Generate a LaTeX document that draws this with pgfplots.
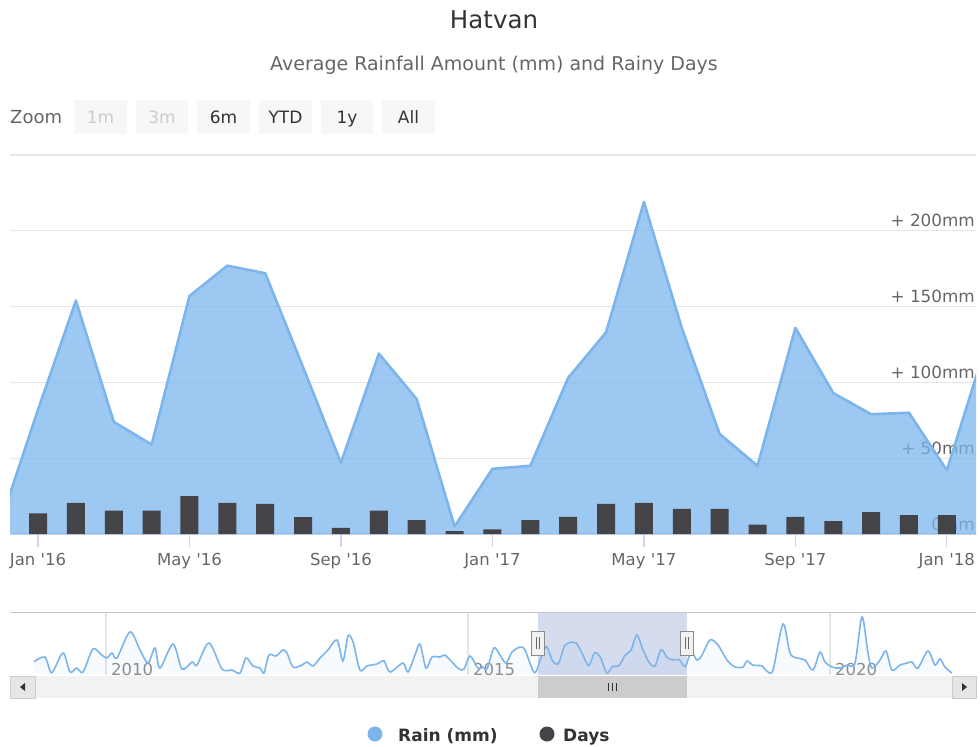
\documentclass[border=0pt]{standalone}
\usepackage{pgfplots}
\usepackage{pgfplotstable}
\pgfplotsset{compat=1.18}
\usepackage{fontspec}
\setmainfont{DejaVu Sans}[Ligatures=TeXOff]
\definecolor{rainblue}{HTML}{7CB5EC}
\definecolor{daysgray}{HTML}{434348}
\definecolor{txt}{HTML}{333333}
\definecolor{sub}{HTML}{666666}
\definecolor{gridc}{HTML}{E6E6E6}
\definecolor{axc}{HTML}{CCD6EB}
\definecolor{btn}{HTML}{F7F7F7}
\definecolor{dis}{HTML}{CCCCCC}
\definecolor{track}{HTML}{F2F2F2}
\definecolor{sbtn}{HTML}{E6E6E6}
\definecolor{mask}{HTML}{CCD6EB}

% month index (0 = Jan 2016), rain in mm
\pgfplotstableread{
m rain
-1 7
0 82
1 154
2 74
3 59
4 157
5 177
6 172
7 110
8 47
9 119
10 89
11 5
12 43
13 45
14 103
15 133
16 219
17 136
18 66
19 45
20 136
21 93
22 79
23 80
24 42
25 122
}\raintable

% month index, rainy days
\pgfplotstableread{
m days
0 7.1
1 10.7
2 8.0
3 8.0
4 13.0
5 10.7
6 10.3
7 5.8
8 2.1
9 8.0
10 4.8
11 1.0
12 1.6
13 4.8
14 5.9
15 10.3
16 10.7
17 8.6
18 8.6
19 3.2
20 5.9
21 4.4
22 7.5
23 6.5
24 6.5
}\daystable

% navigator series: decimal year, rain in mm
\pgfplotstableread{
yr rain
2009.006 69
2009.157 95
2009.250 7
2009.406 118
2009.503 11
2009.595 33
2009.682 11
2009.820 140
2009.941 106
2010.014 90
2010.083 118
2010.152 90
2010.331 236
2010.470 135
2010.580 61
2010.677 146
2010.746 33
2010.925 168
2011.050 28
2011.188 67
2011.257 50
2011.423 174
2011.602 28
2011.740 22
2011.851 5
2011.934 90
2012.030 45
2012.127 33
2012.182 6
2012.251 106
2012.348 101
2012.445 135
2012.500 118
2012.583 39
2012.707 50
2012.776 67
2012.859 45
2012.956 90
2013.066 135
2013.191 191
2013.273 73
2013.343 213
2013.412 180
2013.508 22
2013.605 45
2013.743 56
2013.840 73
2013.923 11
2014.102 61
2014.171 11
2014.268 106
2014.337 168
2014.420 33
2014.503 95
2014.613 95
2014.682 106
2014.779 67
2014.876 28
2014.945 28
2015.028 101
2015.138 33
2015.207 39
2015.262 28
2015.359 146
2015.442 106
2015.525 61
2015.608 123
2015.718 151
2015.787 135
2015.917 7
2016.000 82
2016.083 154
2016.167 74
2016.250 59
2016.333 157
2016.417 177
2016.500 172
2016.583 110
2016.667 47
2016.750 119
2016.833 89
2016.917 5
2017.000 43
2017.083 45
2017.167 103
2017.250 133
2017.333 219
2017.417 136
2017.500 66
2017.583 45
2017.667 136
2017.750 93
2017.833 79
2017.917 80
2018.000 42
2018.083 122
2018.163 78
2018.232 106
2018.343 191
2018.453 163
2018.577 78
2018.688 39
2018.798 39
2018.854 73
2018.936 50
2019.061 45
2019.130 16
2019.212 22
2019.351 281
2019.447 118
2019.544 90
2019.655 78
2019.765 22
2019.862 123
2019.931 67
2020.028 39
2020.138 33
2020.235 50
2020.345 61
2020.442 320
2020.525 118
2020.580 33
2020.691 78
2020.773 129
2020.856 22
2020.967 50
2021.063 61
2021.133 67
2021.215 33
2021.353 129
2021.450 50
2021.519 84
2021.588 39
2021.685 5
}\navtable

\begin{document}
\begin{tikzpicture}
\path[use as bounding box] (0pt,0pt) rectangle (980pt,-747pt);

% titles
\node[anchor=base, font=\fontsize{24.5}{28}\selectfont, text=txt, inner sep=0pt] at (494pt,-28pt) {Hatvan};
\node[anchor=base, font=\fontsize{19}{22}\selectfont, text=sub, inner sep=0pt] at (494pt,-70pt) {Average Rainfall Amount (mm) and Rainy Days};

% range selector
\node[anchor=base west, font=\fontsize{18}{20}\selectfont, text=sub, inner sep=0pt] at (10pt,-123pt) {Zoom};
\foreach \xa/\xb/\lab/\col in {74/127/1m/dis, 136/188/3m/dis, 197/250/6m/txt, 259/312/YTD/txt, 321/373/1y/txt, 382/435/All/txt}{
  \fill[btn] (\xa pt,-100pt) rectangle (\xb pt,-134pt);
  \node[anchor=base, font=\fontsize{17}{20}\selectfont, text=\col, inner sep=0pt] at ({(\xa+\xb)/2*1pt},-123pt) {\lab};
}

% main axis: rain
\begin{axis}[
  at={(10pt,-534pt)}, anchor=south west, scale only axis,
  width=966pt, height=379pt,
  xmin=-0.74, xmax=24.77, ymin=0, ymax=250,
  axis x line*=bottom, axis y line*=right,
  x axis line style={axc, line width=1.2pt},
  y axis line style={draw=none},
  xtick={0,4,8,12,16,20,24},
  xticklabels={Jan '16,May '16,Sep '16,Jan '17,May '17,Sep '17,Jan '18},
  ytick={0,50,100,150,200,250},
  yticklabels={0mm,+ 50mm,+ 100mm,+ 150mm,+ 200mm,},
  tick align=outside,
  xtick style={axc, line width=1.2pt},
  major tick length=13pt,
  ytick style={draw=none},
  ymajorgrids, grid style={gridc, line width=1.2pt},
  xticklabel style={font=\fontsize{16.5}{19}\selectfont, text=sub, anchor=base, inner sep=0pt, yshift=-18pt},
  yticklabel style={font=\fontsize{16.8}{19}\selectfont, text=sub, anchor=base east, inner sep=0pt, xshift=-14pt, yshift=4pt},
  clip=true,
]
\addplot[draw=none, fill=rainblue, fill opacity=0.75] table[x=m, y=rain] {\raintable} \closedcycle;
\addplot[rainblue, line width=2.6pt, line join=round, mark=none] table[x=m, y=rain] {\raintable};
\end{axis}

% days axis (hidden scale)
\begin{axis}[
  at={(10pt,-534pt)}, anchor=south west, scale only axis,
  width=966pt, height=379pt,
  xmin=-0.74, xmax=24.77, ymin=0, ymax=130,
  hide axis,
]
\addplot[ybar, bar width=18pt, fill=daysgray, draw=none] table[x=m, y=days] {\daystable};
\end{axis}

% navigator
\begin{axis}[
  at={(10pt,-675pt)}, anchor=south west, scale only axis,
  width=966pt, height=63pt,
  xmin=2008.674, xmax=2022.017, ymin=-6, ymax=348,
  axis line style={draw=none},
  xtick={2010,2015,2020}, xticklabels={2010,2015,2020},
  ytick=\empty,
  major tick length=0pt,
  xmajorgrids, grid style={gridc, line width=1.2pt},
  xticklabel style={font=\fontsize{16.5}{19}\selectfont, text=black!45, anchor=base west, inner sep=0pt, xshift=5pt, yshift=0pt},
  clip=true,
]
\fill[mask, fill opacity=0.85] (axis cs:2015.967,-6) rectangle (axis cs:2018.025,348);
\addplot[draw=none, fill=rainblue, fill opacity=0.06, smooth] table[x=yr, y=rain] {\navtable} \closedcycle;
\addplot[rainblue, line width=1.6pt, smooth, mark=none] table[x=yr, y=rain] {\navtable};
\draw[black!22, line width=1.5pt] (rel axis cs:0,1) -- (rel axis cs:1,1);
\end{axis}

% navigator handles
\foreach \hx in {538,687}{
  \filldraw[fill=track, draw=black!45, line width=1pt] ({(\hx-6.5)*1pt},-631pt) rectangle ({(\hx+6.5)*1pt},-655pt);
  \draw[black!60, line width=1pt] ({(\hx-1.8)*1pt},-637pt) -- ({(\hx-1.8)*1pt},-649pt);
  \draw[black!60, line width=1pt] ({(\hx+1.8)*1pt},-637pt) -- ({(\hx+1.8)*1pt},-649pt);
}

% scrollbar
\fill[track] (10pt,-676pt) rectangle (976pt,-698pt);
\filldraw[fill=sbtn, draw=dis, line width=1pt] (10pt,-676pt) rectangle (35pt,-698pt);
\filldraw[fill=sbtn, draw=dis, line width=1pt] (952pt,-676pt) rectangle (976pt,-698pt);
\fill[txt] (20pt,-687pt) -- (25pt,-683pt) -- (25pt,-691pt) -- cycle;
\fill[txt] (967pt,-687pt) -- (962pt,-683pt) -- (962pt,-691pt) -- cycle;
\fill[dis] (538pt,-676pt) rectangle (687pt,-698pt);
\foreach \gx in {608.5,612.5,616.5}{
  \draw[txt, line width=1.2pt] (\gx pt,-683pt) -- (\gx pt,-691pt);
}

% legend
\fill[rainblue] (375pt,-734pt) circle (7.5pt);
\node[anchor=base west, font=\bfseries\fontsize{17}{19}\selectfont, text=txt, inner sep=0pt] at (398pt,-741pt) {Rain (mm)};
\fill[daysgray] (547pt,-734pt) circle (7.5pt);
\node[anchor=base west, font=\bfseries\fontsize{17}{19}\selectfont, text=txt, inner sep=0pt] at (563pt,-741pt) {Days};

\end{tikzpicture}
\end{document}
